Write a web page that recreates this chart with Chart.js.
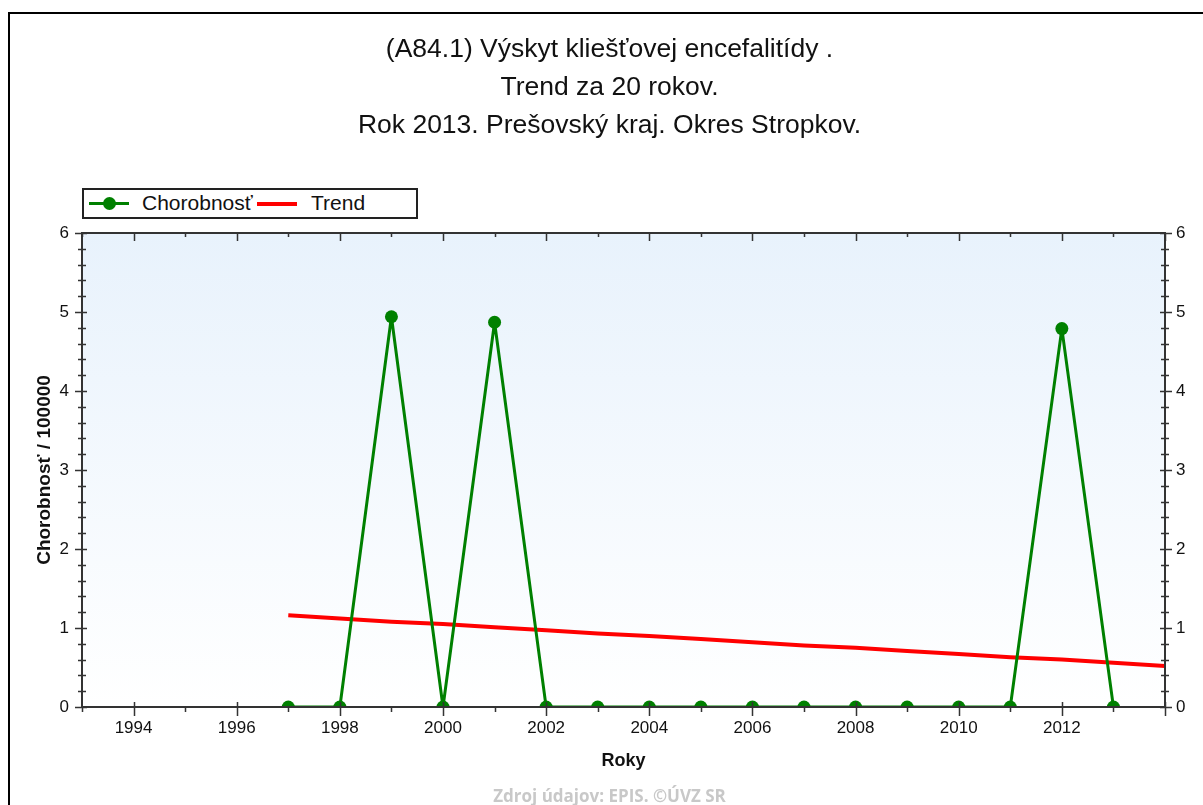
<!DOCTYPE html>
<html>
<head>
<meta charset="utf-8">
<script src="https://cdn.jsdelivr.net/npm/chart.js@4"></script>
<style>
    body { margin: 0; overflow: hidden; background: #fff; }
    #wrap { position: relative; width: 1203px; height: 807px; }
    #frame {
        position: absolute; left: 8px; top: 12px; width: 1300px; height: 900px;
        border-top: 2px solid #000; border-left: 2px solid #000; pointer-events: none;
    }
    #legend {
        position: absolute; left: 82px; top: 188px; width: 332px; height: 27px;
        border: 2px solid #222; background: #fff;
        font-family: 'Liberation Sans', Arial, sans-serif;
        font-size: 21px; color: #111;
    }
    #legend span { position: absolute; top: 1px; }
    .sym { position: absolute; top: 12px; height: 4px; width: 40px; }
    .dot { position: absolute; top: 7px; left: 19px; width: 13px; height: 13px; border-radius: 50%; background: #008000; }
</style>
</head>
<body>
<div id="wrap">
    <canvas id="chart" width="1203" height="807"></canvas>
    <div id="frame"></div>
    <div id="legend">
        <div class="sym" style="left:5px; background:#008000; height:3px;"></div>
        <div class="dot"></div>
        <span style="left:58px;">Chorobnosť</span>
        <div class="sym" style="left:173px; background:#ff0000;"></div>
        <span style="left:227px;">Trend</span>
    </div>
</div>
<script>
const titleLines = ['(A84.1) Výskyt kliešťovej encefalitídy .', 'Trend za 20 rokov.', 'Rok 2013. Prešovský kraj. Okres Stropkov.'];
const footerText = 'Zdroj údajov: EPIS. ©ÚVZ SR';

const years = [1997, 1998, 1999, 2000, 2001, 2002, 2003, 2004, 2005, 2006, 2007, 2008, 2009, 2010, 2011, 2012, 2013];
const chorobnost = [0, 0, 4.94, 0, 4.87, 0, 0, 0, 0, 0, 0, 0, 0, 0, 0, 4.79, 0];

const trendYears = [1997, 1998, 1999, 2000, 2001, 2002, 2003, 2004, 2005, 2006, 2007, 2008, 2009, 2010, 2011, 2012, 2013, 2014];
const trend = [1.16, 1.12, 1.08, 1.05, 1.01, 0.97, 0.93, 0.90, 0.86, 0.82, 0.78, 0.75, 0.71, 0.67, 0.63, 0.60, 0.56, 0.52];

const xMin = 1993, xMax = 2014;
const yMin = 0, yMax = 6;

const sans = "'Liberation Sans', Arial, sans-serif";

const isWhole = v => Math.abs(v - Math.round(v)) < 1e-6;

// light blue gradient behind the plot
const plotBackground = {
    id: 'plotBackground',
    beforeDatasetsDraw(chart) {
        const { ctx, chartArea: a } = chart;
        const g = ctx.createLinearGradient(0, a.top, 0, a.bottom);
        g.addColorStop(0, '#e8f2fc');
        g.addColorStop(1, '#ffffff');
        ctx.save();
        ctx.fillStyle = g;
        ctx.fillRect(a.left, a.top, a.right - a.left, a.bottom - a.top);
        ctx.restore();
    }
};

// cut the series at the plot edges (markers on 0 become half dots)
const clipPlot = {
    id: 'clipPlot',
    beforeDatasetsDraw(chart) {
        const { ctx, chartArea: a } = chart;
        ctx.save();
        ctx.beginPath();
        ctx.rect(a.left, a.top, a.right - a.left, a.bottom - a.top);
        ctx.clip();
    },
    afterDatasetsDraw(chart) {
        chart.ctx.restore();
    }
};

// frame and tick marks on all four sides
const axisFrame = {
    id: 'axisFrame',
    afterDatasetsDraw(chart) {
        const { ctx, chartArea: a, scales } = chart;
        ctx.save();
        ctx.strokeStyle = '#333';
        ctx.lineWidth = 2;
        ctx.beginPath();
        ctx.moveTo(a.left, a.top); ctx.lineTo(a.right + 1, a.top);
        ctx.moveTo(a.left, a.bottom); ctx.lineTo(a.right + 1, a.bottom);
        ctx.moveTo(a.left, a.top - 1); ctx.lineTo(a.left, a.bottom + 1);
        ctx.moveTo(a.right, a.top - 1); ctx.lineTo(a.right, a.bottom + 1);
        ctx.stroke();

        ctx.lineWidth = 1.5;
        ctx.beginPath();
        scales.x.ticks.forEach(t => {
            const px = Math.round(scales.x.getPixelForValue(t.value)) + 0.5;
            const major = Math.round(t.value) % 2 === 0;
            ctx.moveTo(px, a.top); ctx.lineTo(px, a.top + (major ? 8 : 4));
            if (major) { ctx.moveTo(px, a.bottom - 5); ctx.lineTo(px, a.bottom + 9); }
            else { ctx.moveTo(px, a.bottom); ctx.lineTo(px, a.bottom + 5); }
        });
        scales.y.ticks.forEach(t => {
            const py = Math.round(scales.y.getPixelForValue(t.value)) + 0.5;
            const major = isWhole(t.value);
            ctx.moveTo(a.left - (major ? 7 : 4), py); ctx.lineTo(a.left + (major ? 5 : 4), py);
            ctx.moveTo(a.right - (major ? 5 : 4), py); ctx.lineTo(a.right + (major ? 7 : 4), py);
        });
        ctx.stroke();
        ctx.restore();
    }
};

const tickFont = { family: sans, size: 17 };

new Chart(document.getElementById('chart'), {
    type: 'line',
    data: {
        datasets: [{
            label: 'Chorobnosť',
            data: years.map((yr, i) => ({ x: yr, y: chorobnost[i] })),
            borderColor: '#008000',
            backgroundColor: '#008000',
            borderWidth: 3,
            borderJoinStyle: 'round',
            pointRadius: 6.5,
            pointBorderWidth: 0,
            pointBackgroundColor: '#008000',
            order: 1
        }, {
            label: 'Trend',
            data: trendYears.map((yr, i) => ({ x: yr, y: trend[i] })),
            borderColor: '#ff0000',
            borderWidth: 4,
            pointRadius: 0,
            order: 2
        }]
    },
    options: {
        responsive: false,
        animation: false,
        events: [],
        layout: { padding: { top: 0, left: 16, right: 0, bottom: 0 } },
        plugins: {
            legend: { display: false },
            tooltip: { enabled: false },
            title: {
                display: true,
                text: titleLines,
                color: '#111',
                font: { family: sans, size: 26.5, weight: 'normal', lineHeight: '38px' },
                padding: { top: 31, bottom: 88 }
            },
            subtitle: {
                display: true,
                position: 'bottom',
                text: footerText,
                color: '#c8c8c8',
                font: { family: "'Open Sans', sans-serif", size: 17, weight: 'bold', lineHeight: 1.2 },
                padding: { top: 0, bottom: 0 }
            }
        },
        scales: {
            x: {
                type: 'linear',
                position: 'bottom',
                min: xMin,
                max: xMax,
                grid: { display: false, drawTicks: false },
                border: { display: false },
                ticks: {
                    stepSize: 1,
                    autoSkip: false,
                    maxRotation: 0,
                    padding: 11,
                    color: '#111',
                    font: tickFont,
                    callback: v => (Math.round(v) % 2 === 0 && v < xMax ? String(v) : '')
                },
                title: {
                    display: true,
                    text: 'Roky',
                    color: '#111',
                    font: { family: sans, size: 18, weight: 'bold' },
                    padding: { top: 0, bottom: 15 }
                },
                afterFit: s => { s.height = 79.6; }
            },
            y: {
                type: 'linear',
                position: 'left',
                min: yMin,
                max: yMax,
                grid: { display: false, drawTicks: false },
                border: { display: false },
                ticks: {
                    stepSize: 0.2,
                    autoSkip: false,
                    padding: 13,
                    color: '#111',
                    font: tickFont,
                    callback: v => (isWhole(v) ? String(Math.round(v)) : '')
                },
                title: {
                    display: true,
                    text: 'Chorobnosť / 100000',
                    color: '#111',
                    font: { family: sans, size: 19, weight: 'bold' },
                    padding: { top: 17, bottom: 0 }
                },
                afterFit: s => { s.width = 66; }
            },
            y2: {
                type: 'linear',
                position: 'right',
                min: yMin,
                max: yMax,
                grid: { display: false, drawTicks: false },
                border: { display: false },
                ticks: {
                    stepSize: 1,
                    autoSkip: false,
                    padding: 11,
                    color: '#111',
                    font: tickFont
                },
                afterFit: s => { s.width = 38; }
            }
        }
    },
    plugins: [plotBackground, clipPlot, axisFrame]
});
</script>
</body>
</html>
